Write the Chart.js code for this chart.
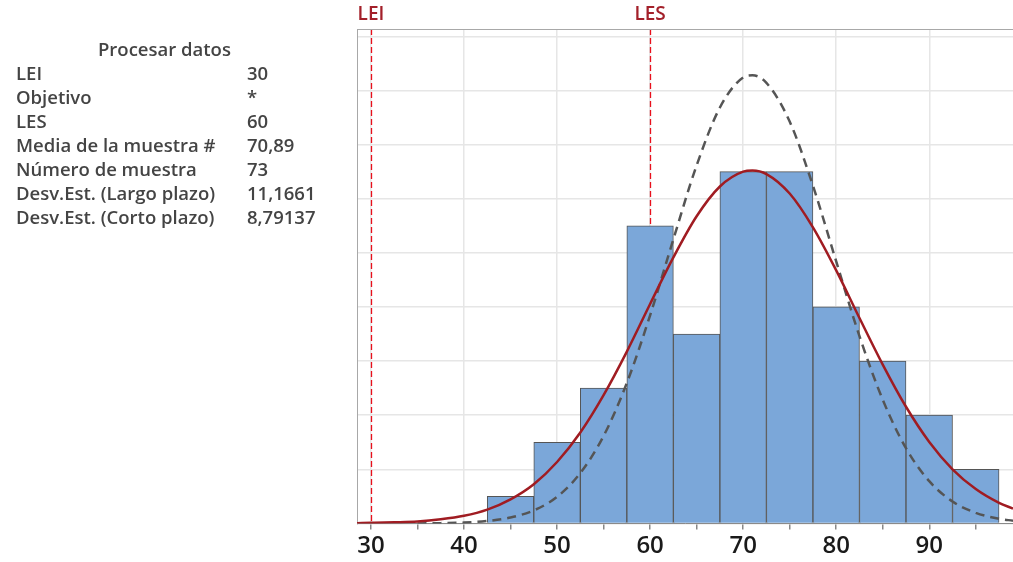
<!DOCTYPE html>
<html>
<head>
<meta charset="utf-8">
<script src="https://cdn.jsdelivr.net/npm/chart.js@4.4.0/dist/chart.umd.min.js"></script>
<style>
    html, body { margin: 0; padding: 0; background: #fff; overflow: hidden; }
    #wrap { position: relative; width: 1013px; height: 562px; }
    #chart { position: absolute; left: 0; top: 0; }
    .stats {
        position: absolute; left: 0; top: 37px;
        font-family: 'Open Sans', 'Noto Sans', sans-serif;
        font-size: 18.5px; font-weight: 600; color: #444; line-height: 24px;
    }
    .stats .title { position: absolute; left: 98px; top: 0; white-space: nowrap; }
    .stats .lbl { position: absolute; left: 16px; white-space: nowrap; }
    .stats .val { position: absolute; left: 247px; white-space: nowrap; }
</style>
</head>
<body>
<div id="wrap">
    <canvas id="chart" width="1013" height="562"></canvas>
    <div class="stats" id="stats"><div class="title">Procesar datos</div></div>
</div>
<script>
// Process data table (left panel)
const statLabels = ['LEI', 'Objetivo', 'LES', 'Media de la muestra #', 'Número de muestra',
    'Desv.Est. (Largo plazo)', 'Desv.Est. (Corto plazo)'];
const statValues = ['30', '*', '60', '70,89', '73', '11,1661', '8,79137'];

// Spec limits drawn as dashed red lines
const specNames = ['LEI', 'LES'];
const specValues = [30, 60];

// Histogram bins (centre, count)
const binCenters = [45, 50, 55, 60, 65, 70, 75, 80, 85, 90, 95];
const binCounts = [1, 3, 5, 11, 7, 13, 13, 8, 6, 4, 2];

// Overall (long term) fitted curve
const overallX = [28.5, 30, 32.5, 35, 37.5, 40, 42.5, 45, 47.5, 50, 52.5, 55, 57.5, 60, 62.5, 65,
    67.5, 70, 71, 72.5, 75, 77.5, 80, 82.5, 85, 87.5, 90, 92.5, 95, 97.5, 99];
const overallY = [0.01, 0.02, 0.04, 0.07, 0.15, 0.28, 0.51, 0.89, 1.45, 2.27, 3.36, 4.74, 6.35, 8.11, 9.83, 11.35,
    12.45, 13.00, 13.04, 12.91, 12.19, 10.94, 9.35, 7.59, 5.87, 4.31, 3.01, 2.00, 1.27, 0.76, 0.55];

// Within (short term) fitted curve, dashed
const withinX = [35, 37.5, 40, 42.5, 45, 47.5, 50, 52.5, 55, 57.5, 60, 62.5, 65, 67.5, 70, 71,
    72.5, 75, 77.5, 80, 82.5, 85, 87.5, 90, 92.5, 95, 97.5, 99];
const withinY = [0.00, 0.01, 0.03, 0.09, 0.22, 0.48, 0.98, 1.86, 3.23, 5.19, 7.69, 10.50, 13.23, 15.37, 16.48, 16.56,
    16.28, 14.85, 12.48, 9.68, 6.92, 4.57, 2.78, 1.56, 0.81, 0.39, 0.17, 0.10];

// Axis ticks
const xTicks = [30, 35, 40, 45, 50, 55, 60, 65, 70, 75, 80, 85, 90, 95];
const yTicks = [0, 2, 4, 6, 8, 10, 12, 14, 16, 18];

const FONT = "'Open Sans', 'Noto Sans', sans-serif";

// fill the left panel
const stats = document.getElementById('stats');
statLabels.forEach((label, i) => {
    const top = (i + 1) * 24;
    const l = document.createElement('div');
    l.className = 'lbl'; l.style.top = top + 'px'; l.textContent = label;
    const v = document.createElement('div');
    v.className = 'val'; v.style.top = top + 'px'; v.textContent = statValues[i];
    stats.appendChild(l);
    stats.appendChild(v);
});

// draws the frame top line and the spec limit lines + labels
const specPlugin = {
    id: 'specLines',
    beforeDatasetsDraw(chart) {
        const { ctx, chartArea, scales } = chart;
        ctx.save();
        ctx.strokeStyle = '#e8101c';
        ctx.lineWidth = 1.3;
        ctx.setLineDash([6, 3]);
        specValues.forEach(v => {
            const x = Math.round(scales.x.getPixelForValue(v)) + 0.5;
            ctx.beginPath();
            ctx.moveTo(x, chartArea.top);
            ctx.lineTo(x, chartArea.bottom);
            ctx.stroke();
        });
        ctx.restore();
    },
    afterDraw(chart) {
        const { ctx, chartArea, scales } = chart;
        ctx.save();
        ctx.strokeStyle = '#a8a8a8';
        ctx.lineWidth = 1;
        ctx.beginPath();
        ctx.moveTo(chartArea.left, chartArea.top + 0.5);
        ctx.lineTo(chartArea.right, chartArea.top + 0.5);
        ctx.stroke();
        ctx.fillStyle = '#a3202a';
        ctx.font = '600 19px ' + FONT;
        ctx.textAlign = 'center';
        ctx.textBaseline = 'middle';
        specValues.forEach((v, i) => {
            ctx.fillText(specNames[i], scales.x.getPixelForValue(v), 15);
        });
        ctx.restore();
    }
};

new Chart(document.getElementById('chart').getContext('2d'), {
    data: {
        datasets: [
            {
                type: 'line',
                data: overallX.map((x, i) => ({ x, y: overallY[i] })),
                borderColor: '#a01c22',
                borderWidth: 2.5,
                pointRadius: 0,
                cubicInterpolationMode: 'monotone',
                fill: false,
                order: 0
            },
            {
                type: 'line',
                data: withinX.map((x, i) => ({ x, y: withinY[i] })),
                borderColor: '#555',
                borderWidth: 2.5,
                borderDash: [9, 6],
                pointRadius: 0,
                cubicInterpolationMode: 'monotone',
                fill: false,
                order: 1
            },
            {
                type: 'bar',
                data: binCenters.map((x, i) => ({ x, y: binCounts[i] })),
                backgroundColor: '#7ba7d9',
                borderColor: '#555',
                borderWidth: 1,
                barPercentage: 1,
                categoryPercentage: 1,
                order: 2
            }
        ]
    },
    options: {
        responsive: false,
        animation: false,
        layout: { padding: { left: 357, top: 29, right: 0, bottom: 0 } },
        plugins: { legend: { display: false }, tooltip: { enabled: false } },
        scales: {
            x: {
                type: 'linear',
                offset: false,
                min: 28.5,
                max: 99,
                afterBuildTicks: axis => { axis.ticks = xTicks.map(value => ({ value })); },
                ticks: {
                    autoSkip: false,
                    maxRotation: 0,
                    padding: 5.5,
                    color: '#1a1a1a',
                    font: { family: FONT, size: 24, weight: '600', lineHeight: 0.9 },
                    callback: v => (v % 10 === 0 ? String(v) : '')
                },
                grid: {
                    offset: false,
                    color: c => (c.tick && c.tick.value % 10 === 0 ? '#e6e6e6' : 'rgba(0,0,0,0)'),
                    tickColor: '#888',
                    tickLength: 6,
                    lineWidth: 1.5
                },
                border: { color: '#8a8a8a' }
            },
            y: {
                min: 0,
                max: 18.27,
                afterBuildTicks: axis => { axis.ticks = yTicks.map(value => ({ value })); },
                ticks: { display: false },
                grid: { color: '#e6e6e6', drawTicks: false, lineWidth: 1.5 },
                border: { color: '#a8a8a8' }
            }
        }
    },
    plugins: [specPlugin]
});
</script>
</body>
</html>
